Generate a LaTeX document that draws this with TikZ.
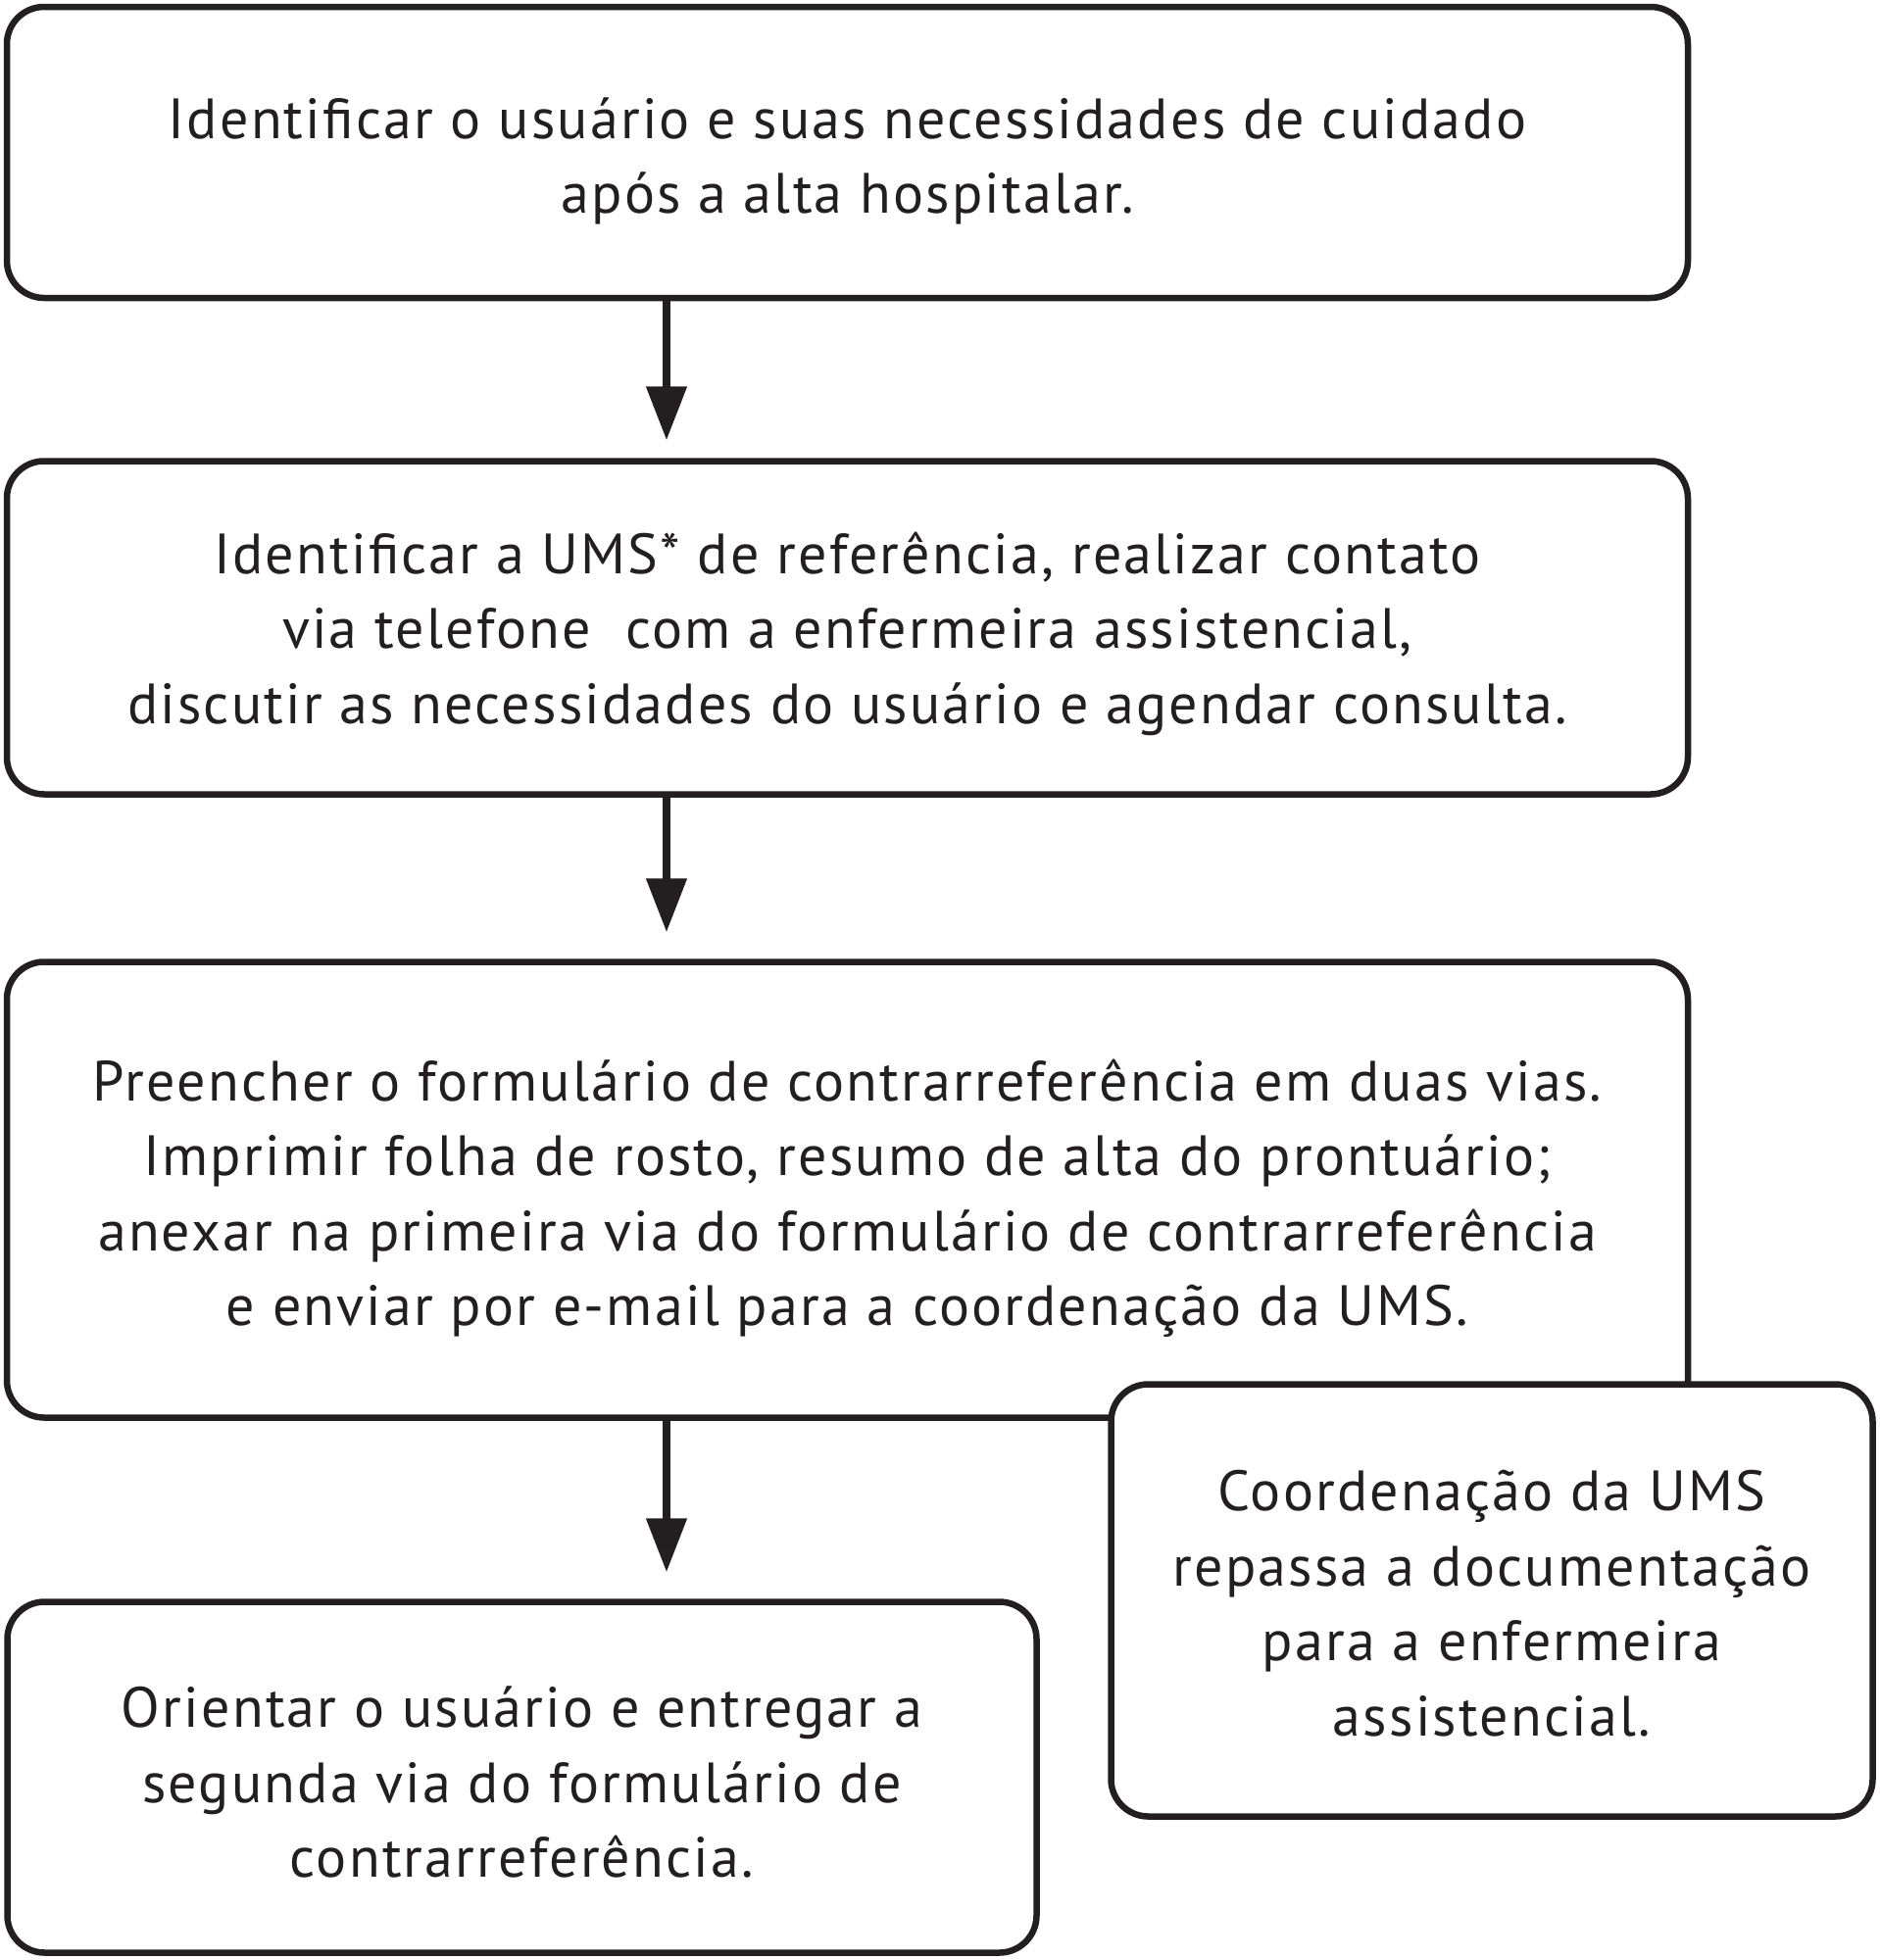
\documentclass[tikz,border=0pt]{standalone}
\usepackage{fontspec}
\setmainfont[LetterSpace=3.8]{PT Sans}
\usetikzlibrary{arrows.meta}
\definecolor{ink}{HTML}{231F20}
\tikzset{
  boxnode/.style={draw=ink, fill=white, line width=6.5pt, rounded corners=38pt, inner sep=0pt},
  boxtext/.style={align=center, inner sep=0pt, text=ink,
    font=\fontsize{58}{76.5}\selectfont},
  flowarrow/.style={draw=ink, line width=8pt, -{Triangle[length=55pt,width=40pt]}}
}
\begin{document}
\begin{tikzpicture}[x=1pt,y=-1pt]
\useasboundingbox (0,0) rectangle (1918,2000);
\node[boxnode, minimum width=1715pt, minimum height=297pt] (b1) at (864.5,155.5) {};
\node[boxtext] (t1) at ([yshift=-9pt]b1.center)
  {Identificar o usuário e suas necessidades de cuidado\\após a alta hospitalar.};
\node[boxnode, minimum width=1715pt, minimum height=340pt] (b2) at (864.5,640.5) {};
\node[boxtext] (t2) at ([yshift=-6pt]b2.center)
  {Identificar a UMS* de referência, realizar contato\\via telefone\ \ com a enfermeira assistencial,\\discutir as necessidades do usuário e agendar consulta.};
\node[boxnode, minimum width=1715pt, minimum height=465pt] (b3) at (864.5,1214) {};
\node[boxtext] (t3) at ([yshift=-9pt]b3.center)
  {Preencher o formulário de contrarreferência em duas vias.\\Imprimir folha de rosto, resumo de alta do prontuário;\\anexar na primeira via do formulário de contrarreferência\\e enviar por e-mail para a coordenação da UMS.};
\node[boxnode, minimum width=777pt, minimum height=441pt] (b4) at (1522,1633) {};
\node[boxtext] (t4) at ([yshift=-3pt]b4.center)
  {Coordenação da UMS\\repassa a documentação\\para a enfermeira\\assistencial.};
\node[boxnode, minimum width=1050pt, minimum height=358pt] (b5) at (532.5,1813.5) {};
\node[boxtext] (t5) at ([yshift=-5pt]b5.center)
  {Orientar o usuário e entregar a\\segunda via do formulário de\\contrarreferência.};
\coordinate (ax) at (680,0);
\draw[flowarrow, shorten >=18pt] (b1.south -| ax) -- (b2.north -| ax);
\draw[flowarrow, shorten >=27pt] (b2.south -| ax) -- (b3.north -| ax);
\draw[flowarrow, shorten >=27pt] (b3.south -| ax) -- (b5.north -| ax);
\end{tikzpicture}
\end{document}
